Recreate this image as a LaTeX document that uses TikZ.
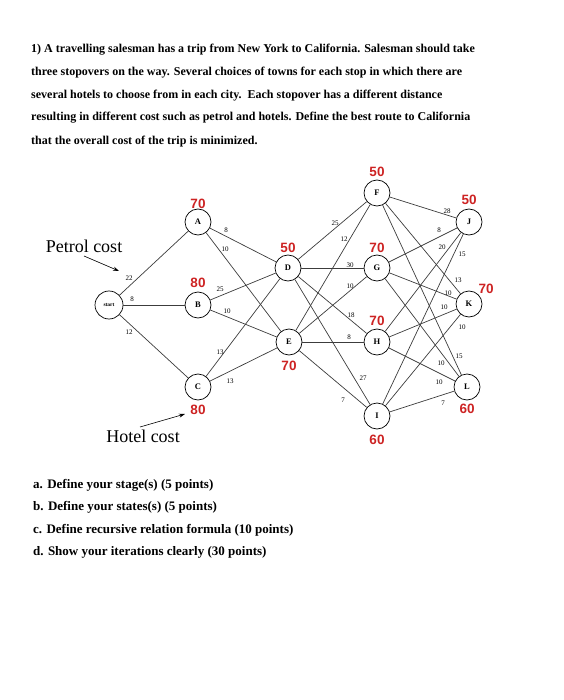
\documentclass[tikz,border=0pt]{standalone}
\usepackage{fontspec}
\setmainfont{Liberation Serif}
\newfontfamily\redfont{Liberation Sans}
\usetikzlibrary{arrows.meta}
\definecolor{hotelred}{RGB}{205,35,35}
\definecolor{edgegray}{RGB}{60,60,60}
\tikzset{
  city/.style={circle,draw=black,line width=0.7pt,minimum size=26pt,inner sep=0pt,font=\fontsize{8.5}{9}\selectfont\bfseries},
  startnode/.style={circle,draw=black,line width=0.7pt,minimum size=28pt,inner sep=0pt,font=\fontsize{5.5}{6}\selectfont\bfseries},
  road/.style={draw=edgegray,line width=0.7pt},
  cost/.style={font=\fontsize{7}{7.5}\selectfont,inner sep=0pt},
  hotel/.style={font=\redfont\fontsize{13.5}{14}\selectfont\bfseries,text=hotelred,inner sep=0pt},
  titleline/.style={anchor=west,inner sep=0pt,font=\fontsize{12}{13}\selectfont\bfseries},
  askline/.style={anchor=west,inner sep=0pt,font=\fontsize{13}{14}\selectfont\bfseries},
  callout/.style={font=\fontsize{18}{19}\selectfont,inner sep=0pt},
  pointer/.style={draw=black,line width=0.6pt,-{Stealth[length=6pt,width=4pt]}}
}
\begin{document}
\begin{tikzpicture}[x=1pt,y=-1pt]
\useasboundingbox (0,0) rectangle (563,700);
% title
\node[titleline] (t1) at (31,50) {1) A travelling salesman has a trip from New York to California. Salesman should take};
\node[titleline] (t2) at (31,73) {three stopovers on the way. Several choices of towns for each stop in which there are};
\node[titleline] (t3) at (31,96) {several hotels to choose from in each city.\ \ Each stopover has a different distance};
\node[titleline] (t4) at (31,118) {resulting in different cost such as petrol and hotels. Define the best route to California};
\node[titleline] (t5) at (31,142) {that the overall cost of the trip is minimized.};
% nodes
\node[startnode] (S) at (109,305) {start};
\node[city] (A) at (198,222) {A};
\node[city] (B) at (198,305) {B};
\node[city] (C) at (198,387) {C};
\node[city] (D) at (288,268) {D};
\node[city] (E) at (289,342) {E};
\node[city] (F) at (377,193) {F};
\node[city] (G) at (377,268) {G};
\node[city] (H) at (377,342) {H};
\node[city] (I) at (377,416) {I};
\node[city] (J) at (469,222) {J};
\node[city] (K) at (469,304) {K};
\node[city] (L) at (467,387) {L};
% roads
\foreach \a/\b in {S/A,S/B,S/C,A/D,A/E,B/D,B/E,C/D,C/E,D/F,D/G,D/H,D/I,E/F,E/G,E/H,E/I,F/J,F/K,F/L,G/J,G/K,G/L,H/J,H/K,H/L,I/J,I/K,I/L}
  \draw[road] (\a) -- (\b);
% petrol costs
\node[cost] (c1) at (129,278) {22};
\node[cost] (c2) at (132,299) {8};
\node[cost] (c3) at (129,332) {12};
\node[cost] (c4) at (226,230) {8};
\node[cost] (c5) at (225,249) {10};
\node[cost] (c6) at (220,289) {25};
\node[cost] (c7) at (227,311) {10};
\node[cost] (c8) at (220,352) {13};
\node[cost] (c9) at (230,381) {13};
\node[cost] (c10) at (335,223) {25};
\node[cost] (c11) at (344,239) {12};
\node[cost] (c12) at (350,265) {30};
\node[cost] (c13) at (350,286) {10};
\node[cost] (c14) at (351,315) {18};
\node[cost] (c15) at (349,337) {8};
\node[cost] (c16) at (363,378) {27};
\node[cost] (c17) at (343,400) {7};
\node[cost] (c18) at (447,211) {28};
\node[cost] (c19) at (439,230) {8};
\node[cost] (c20) at (442,247) {20};
\node[cost] (c21) at (462,254) {15};
\node[cost] (c22) at (458,280) {13};
\node[cost] (c23) at (448,293) {10};
\node[cost] (c24) at (444,307) {10};
\node[cost] (c25) at (462,327) {10};
\node[cost] (c26) at (459,356) {15};
\node[cost] (c27) at (441,363) {10};
\node[cost] (c28) at (439,382) {10};
\node[cost] (c29) at (443,403) {7};
% hotel costs
\node[hotel] (h1) at (198,204) {70};
\node[hotel] (h2) at (198,283) {80};
\node[hotel] (h3) at (198,410) {80};
\node[hotel] (h4) at (288,248) {50};
\node[hotel] (h5) at (289,366) {70};
\node[hotel] (h6) at (377,172) {50};
\node[hotel] (h7) at (377,248) {70};
\node[hotel] (h8) at (377,321) {70};
\node[hotel] (h9) at (377,440) {60};
\node[hotel] (h10) at (469,200) {50};
\node[hotel] (h11) at (486,289) {70};
\node[hotel] (h12) at (467,409) {60};
% callouts
\node[callout] (pc) at (84,246) {Petrol cost};
\coordinate (pcs) at (84,256);
\coordinate (pct) at (119,271);
\draw[pointer] (pcs) -- (pct);
\node[callout] (hc) at (143,436) {Hotel cost};
\coordinate (hcs) at (140,427);
\coordinate (hct) at (185,414);
\draw[pointer] (hcs) -- (hct);
% questions
\node[askline] (q1) at (33,485) {a. Define your stage(s) (5 points)};
\node[askline] (q2) at (33,507) {b. Define your states(s) (5 points)};
\node[askline] (q3) at (33,530) {c. Define recursive relation formula (10 points)};
\node[askline] (q4) at (33,552) {d. Show your iterations clearly (30 points)};
\end{tikzpicture}
\end{document}
